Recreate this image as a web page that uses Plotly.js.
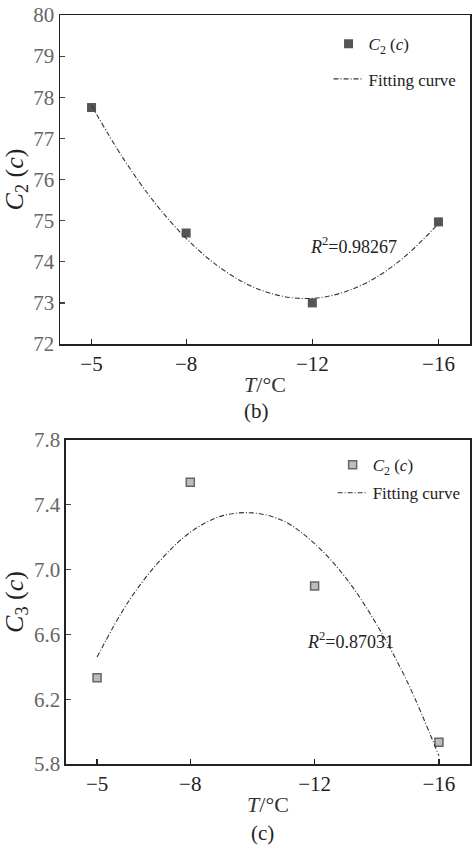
<!DOCTYPE html>
<html>
<head>
<meta charset="utf-8">
<script src="https://cdn.plot.ly/plotly-3.0.1.min.js"></script>
<style>
  html, body { margin: 0; padding: 0; background: #fff; }
  #chart { width: 474px; height: 851px; }
</style>
</head>
<body>
<div id="chart"></div>
<script>
// temperatures (°C) for the measured points
var temps = [-5, -8, -12, -16];
var tickLabels = ['\u22125', '\u22128', '\u221212', '\u221216'];

// panel (b): C2(c)
var c2Values = [77.75, 74.7, 73.0, 74.97];
// panel (c): C3(c)
var c3Values = [6.333, 7.539, 6.899, 5.934];

// fitting curves
var curveTemps = [-5, -6, -7, -8, -9, -10, -11, -12, -13, -14, -15, -16];
var c2Curve = [77.8, 76.52, 75.44, 74.57, 73.9, 73.43, 73.17, 73.11, 73.26, 73.61, 74.17, 74.93];
var c3Curve = [6.46, 6.8, 7.05, 7.23, 7.33, 7.35, 7.3, 7.16, 6.95, 6.66, 6.3, 5.85];

var serif = 'Liberation Serif, Times New Roman, serif';
var fitDash = '5px,2px,1px,2px';

var data = [
    {
        x: temps, y: c2Values, type: 'scatter', mode: 'markers',
        name: '<i>C</i><sub>2</sub> (<i>c</i>)',
        marker: {symbol: 'square', size: 9, color: '#555'},
        legendgroup: 'p', legend: 'legend',
        xaxis: 'x', yaxis: 'y'
    },
    {
        x: curveTemps, y: c2Curve, type: 'scatter', mode: 'lines',
        name: 'Fitting curve',
        line: {shape: 'spline', color: '#333', width: 1.1, dash: fitDash},
        legendgroup: 'f', legend: 'legend',
        xaxis: 'x', yaxis: 'y'
    },
    {
        x: temps, y: c3Values, type: 'scatter', mode: 'markers',
        name: '<i>C</i><sub>2</sub> (<i>c</i>)',
        marker: {symbol: 'square', size: 8, color: '#bdbdbd',
                 line: {color: '#666', width: 1.5}},
        legendgroup: 'p2', legend: 'legend2',
        xaxis: 'x2', yaxis: 'y2'
    },
    {
        x: curveTemps, y: c3Curve, type: 'scatter', mode: 'lines',
        name: 'Fitting curve',
        line: {shape: 'spline', color: '#333', width: 1.1, dash: fitDash},
        legendgroup: 'f2', legend: 'legend2',
        xaxis: 'x2', yaxis: 'y2'
    }
];

function xAxis(domain, anchor) {
    return {
        domain: domain, anchor: anchor,
        range: [-4, -17],
        tickvals: temps, ticktext: tickLabels,
        ticks: 'inside', ticklen: 5, tickwidth: 1.2, tickcolor: '#222',
        showline: true, linecolor: '#222', linewidth: 1.5, mirror: true,
        showgrid: false, zeroline: false,
        tickfont: {family: serif, size: 21, color: '#222'},
        title: {text: '<i>T</i>/°C', font: {family: serif, size: 22, color: '#333'}, standoff: 2}
    };
}

function yAxis(domain, anchor, range, dtick, fmt, title) {
    return {
        domain: domain, anchor: anchor,
        range: range, tick0: range[0], dtick: dtick, tickformat: fmt,
        ticks: 'inside', ticklen: 5, tickwidth: 1.2, tickcolor: '#444',
        showline: true, linecolor: '#222', linewidth: 1.5, mirror: true,
        showgrid: false, zeroline: false,
        tickfont: {family: serif, size: 21, color: '#666'},
        title: {text: title, font: {family: serif, size: 26, color: '#222'}, standoff: 4}
    };
}

var layout = {
    width: 474, height: 851,
    margin: {l: 60, r: 4, t: 15, b: 87},
    paper_bgcolor: '#fff', plot_bgcolor: '#fff',
    font: {family: serif, color: '#222'},
    showlegend: true,
    xaxis: xAxis([0, 1], 'y'),
    yaxis: yAxis([0.5607, 1], 'x', [72, 80], 1, 'd', '<i>C</i><sub>2</sub> (<i>c</i>)'),
    xaxis2: xAxis([0.0146, 1], 'y2'),
    yaxis2: yAxis([0, 0.4326], 'x2', [5.8, 7.8], 0.4, '.1f', '<i>C</i><sub>3</sub> (<i>c</i>)'),
    legend: {
        x: 0.655, y: 0.985, xanchor: 'left', yanchor: 'top',
        bgcolor: 'rgba(0,0,0,0)', borderwidth: 0,
        font: {family: serif, size: 17, color: '#222'},
        traceorder: 'grouped', tracegroupgap: 10, itemwidth: 30
    },
    legend2: {
        x: 0.665, y: 0.423, xanchor: 'left', yanchor: 'top',
        bgcolor: 'rgba(0,0,0,0)', borderwidth: 0,
        font: {family: serif, size: 17, color: '#222'},
        traceorder: 'grouped', tracegroupgap: 3, itemwidth: 30
    },
    annotations: [
        {xref: 'x', yref: 'y', x: -11.87, y: 74.4, xanchor: 'left', yanchor: 'middle',
         text: '<i>R</i><sup>2</sup>=0.98267', showarrow: false,
         font: {family: serif, size: 18, color: '#222'}},
        {xref: 'x2', yref: 'y2', x: -11.69, y: 6.565, xanchor: 'left', yanchor: 'middle',
         text: '<i>R</i><sup>2</sup>=0.87031', showarrow: false,
         font: {family: serif, size: 18, color: '#222'}},
        {xref: 'paper', yref: 'paper', x: 0.48, y: (851 - 87 - 411) / 749, xanchor: 'center', yanchor: 'middle',
         text: '(b)', showarrow: false, font: {family: serif, size: 21, color: '#222'}},
        {xref: 'paper', yref: 'paper', x: 0.495, y: (851 - 87 - 833) / 749, xanchor: 'center', yanchor: 'middle',
         text: '(c)', showarrow: false, font: {family: serif, size: 21, color: '#222'}}
    ]
};

Plotly.newPlot('chart', data, layout, {displayModeBar: false, staticPlot: true});
</script>
</body>
</html>
